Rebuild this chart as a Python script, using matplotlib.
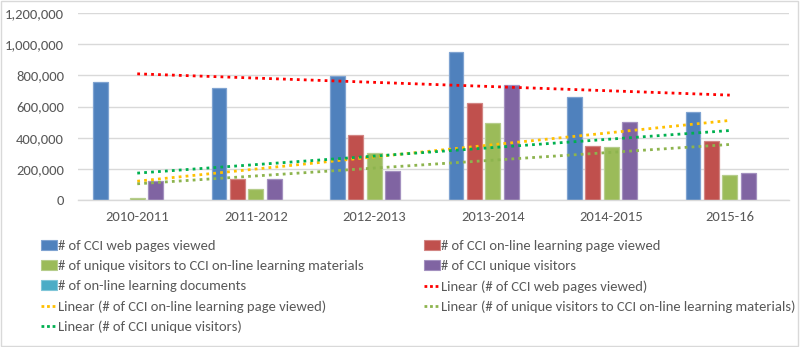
import matplotlib
matplotlib.use("Agg")
import matplotlib.pyplot as plt
import numpy as np
from matplotlib.patches import Patch, Rectangle
from matplotlib.lines import Line2D
from matplotlib.ticker import FuncFormatter

plt.rcParams['font.family'] = ['Carlito', 'Lato', 'DejaVu Sans']

categories = ["2010-2011", "2011-2012", "2012-2013", "2013-2014", "2014-2015", "2015-16"]
web_pages = [755000, 717000, 796000, 952000, 663000, 565000]
learning_pages = [0, 133000, 417000, 620000, 347000, 377000]
unique_learning = [11000, 69000, 302000, 496000, 340000, 163000]
unique_visitors = [122000, 133000, 188000, 738000, 499000, 175000]
learning_docs = [0, 0, 0, 0, 0, 0]

series_names = ["# of CCI web pages viewed",
                "# of CCI on-line learning page viewed",
                "# of unique visitors to CCI on-line learning materials",
                "# of CCI unique visitors",
                "# of on-line learning documents"]
series_values = [web_pages, learning_pages, unique_learning, unique_visitors, learning_docs]
colors = ["#4F81BD", "#C0504D", "#9BBB59", "#8064A2", "#4BACC6"]
edges = ["#7FA3D1", "#D28583", "#B6CD8C", "#A390BF", "#80C6D8"]
trend_series = [0, 1, 2, 3]
trend_colors = ["#FF0000", "#FFC000", "#8DB44E", "#00B050"]

fig = plt.figure(figsize=(8, 3.47), dpi=100)
ax = fig.add_axes([78/800, 1-200/347, (789-78)/800, (200-13)/347])

x = np.arange(len(categories))
slot = 0.155
bw = 0.125
for i, (vals, c, e) in enumerate(zip(series_values, colors, edges)):
    lw = [0.9 if v > 0 else 0 for v in vals]
    ax.bar(x + (i-2)*slot, vals, width=bw, color=c, edgecolor=e, linewidth=lw, zorder=2)

for si, tc in zip(trend_series, trend_colors):
    vals = np.array(series_values[si], dtype=float)
    xs = x + 1.0
    m, b = np.polyfit(xs, vals, 1)
    ax.plot(x, m*xs + b, color=tc, linestyle=(0, (1, 1.5)), linewidth=2.0, zorder=3)

ax.set_xlim(-0.5, 5.5)
ax.set_ylim(0, 1200000)
ax.set_yticks(np.arange(0, 1200001, 200000))
ax.yaxis.set_major_formatter(FuncFormatter(lambda v, p: f"{int(v):,}"))
ax.set_xticks(x)
ax.set_xticklabels(categories)
ax.tick_params(axis='both', length=0, colors="#595959", labelsize=10.5)
ax.tick_params(axis='x', pad=8)
ax.tick_params(axis='y', pad=10)
ax.grid(axis='y', color="#D9D9D9", linewidth=1, zorder=0)
ax.set_axisbelow(True)
for s in ['top', 'right', 'left']:
    ax.spines[s].set_visible(False)
ax.spines['bottom'].set_color("#D9D9D9")
ax.spines['bottom'].set_linewidth(1)

# legend handles
bar_handles = [Patch(facecolor=c, edgecolor=e, linewidth=0.8) for c, e in zip(colors, edges)]
trend_handles = [Line2D([0], [0], color=tc, linestyle=(0, (1, 1)), linewidth=2) for tc in trend_colors]
trend_labels = [f"Linear ({series_names[si]})" for si in trend_series]

all_h = bar_handles + trend_handles
all_l = series_names + trend_labels
col1_idx = [0, 2, 4, 6, 8]
col2_idx = [1, 3, 5, 7]

common = dict(frameon=False, fontsize=10.5, handlelength=1.1, handleheight=0.7,
              handletextpad=0.08, labelspacing=0.54, borderaxespad=0, borderpad=0,
              labelcolor="#595959")
leg1 = fig.legend([all_h[i] for i in col1_idx], [all_l[i] for i in col1_idx],
                  loc='upper left', bbox_to_anchor=(41/800, 1-240/347), **common)
leg2 = fig.legend([all_h[i] for i in col2_idx], [all_l[i] for i in col2_idx],
                  loc='upper left', bbox_to_anchor=(424/800, 1-240/347), **common)

fig.patches.append(Rectangle((0.001, 0.002), 0.997, 0.995, transform=fig.transFigure,
                             fill=False, edgecolor="#D9D9D9", linewidth=1))

fig.savefig("out.png", dpi=100, facecolor="white")
